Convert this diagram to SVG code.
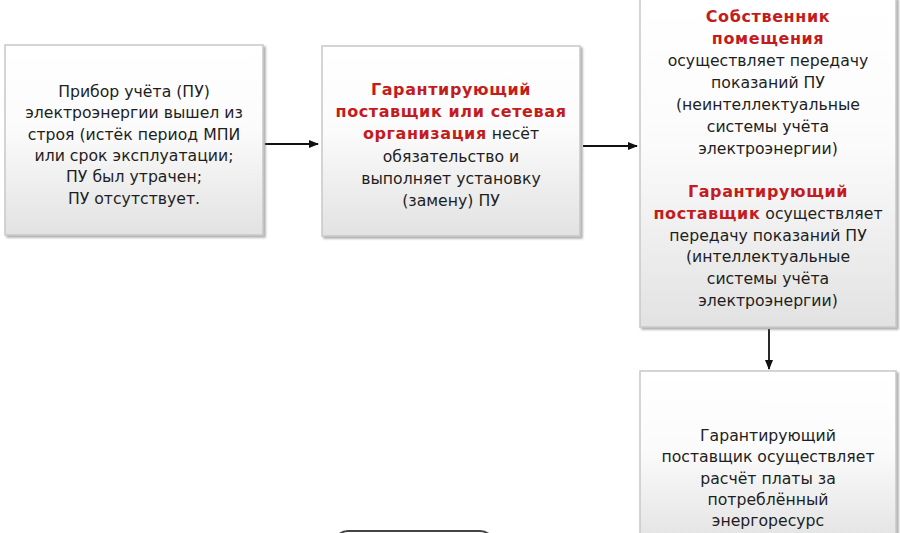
<svg xmlns="http://www.w3.org/2000/svg" width="900" height="533" viewBox="0 0 900 533">
<style>
.box{fill:url(#g);stroke:#c8c8c8;stroke-width:1.5;filter:url(#sh)}
.t{font-family:"DejaVu Sans","Liberation Sans",sans-serif;font-size:15.7px;fill:#1e1e1e;text-anchor:middle}
.r{fill:#c41c1c;font-weight:bold;font-size:16px;letter-spacing:0.6px}
.c{stroke:#111;stroke-width:1.8;fill:none;marker-end:url(#ah)}
</style>
<defs>
<linearGradient id="g" x1="0" y1="0" x2="0" y2="1">
<stop offset="0" stop-color="#ffffff"/>
<stop offset="0.45" stop-color="#fbfbfb"/>
<stop offset="1" stop-color="#e2e2e2"/>
</linearGradient>
<filter id="sh" x="-5%" y="-5%" width="115%" height="115%">
<feDropShadow dx="2" dy="2" stdDeviation="1.2" flood-color="#777" flood-opacity="0.6"/>
</filter>
<marker id="ah" markerWidth="10" markerHeight="10" refX="9" refY="5" orient="auto" markerUnits="userSpaceOnUse">
<path d="M0,1 L10,5 L0,9 z" fill="#111"/>
</marker>
</defs>
<g id="connectors">
<line class="c" x1="265" y1="144" x2="318" y2="144"/>
<line class="c" x1="583" y1="146" x2="637" y2="146"/>
<line class="c" x1="769" y1="329" x2="769" y2="369"/>
</g>
<g id="node1">
<rect class="box" x="5" y="45" width="258" height="190"/>
<text class="t" y="97"><tspan x="134">Прибор учёта (ПУ)</tspan><tspan x="134" dy="21.3">электроэнергии вышел из</tspan><tspan x="134" dy="21.3">строя (истёк период МПИ</tspan><tspan x="134" dy="21.3">или срок эксплуатации;</tspan><tspan x="134" dy="21.3">ПУ был утрачен;</tspan><tspan x="134" dy="21.3">ПУ отсутствует.</tspan></text>
</g>
<g id="node2">
<rect class="box" x="322" y="46" width="258" height="190"/>
<text class="t" y="95"><tspan x="451" class="r">Гарантирующий</tspan><tspan x="451" dy="22.2" class="r">поставщик или сетевая</tspan><tspan x="451" dy="22.2"><tspan class="r">организация</tspan> несёт</tspan><tspan x="451" dy="22.2">обязательство и</tspan><tspan x="451" dy="22.2">выполняет установку</tspan><tspan x="451" dy="22.2">(замену) ПУ</tspan></text>
</g>
<g id="node3">
<rect class="box" x="640" y="-2" width="256" height="329"/>
<text class="t" y="22"><tspan x="768" class="r">Собственник</tspan><tspan x="768" dy="22" class="r">помещения</tspan><tspan x="768" dy="22">осуществляет передачу</tspan><tspan x="768" dy="22">показаний ПУ</tspan><tspan x="768" dy="22">(неинтеллектуальные</tspan><tspan x="768" dy="22">системы учёта</tspan><tspan x="768" dy="22">электроэнергии)</tspan></text>
<text class="t" y="197"><tspan x="768" class="r">Гарантирующий</tspan><tspan x="768" dy="21.8"><tspan class="r">поставщик</tspan> осуществляет</tspan><tspan x="768" dy="21.8">передачу показаний ПУ</tspan><tspan x="768" dy="21.8">(интеллектуальные</tspan><tspan x="768" dy="21.8">системы учёта</tspan><tspan x="768" dy="21.8">электроэнергии)</tspan></text>
</g>
<g id="node4">
<rect class="box" x="640" y="371" width="256" height="175"/>
<text class="t" y="441"><tspan x="768">Гарантирующий</tspan><tspan x="768" dy="21.3">поставщик осуществляет</tspan><tspan x="768" dy="21.3">расчёт платы за</tspan><tspan x="768" dy="21.3">потреблённый</tspan><tspan x="768" dy="21.3">энергоресурс</tspan></text>
</g>
<g id="node5">
<rect x="334" y="531" width="160" height="40" rx="14" fill="#ffffff" stroke="#444" stroke-width="2"/>
</g>
</svg>
